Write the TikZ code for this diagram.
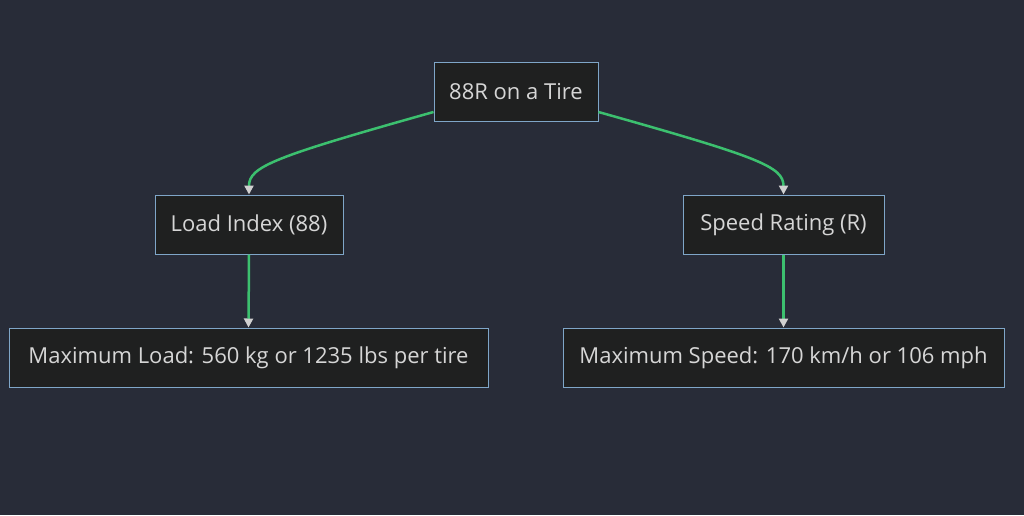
\documentclass[tikz,border=0pt]{standalone}
\usepackage{fontspec}
\setmainfont{Open Sans}
\usetikzlibrary{arrows.meta}
\definecolor{bg}{HTML}{282C38}
\definecolor{nodefill}{HTML}{1F2020}
\definecolor{nodeline}{HTML}{7FA6C8}
\definecolor{txt}{HTML}{D6D6D6}
\definecolor{edge}{HTML}{3CC06F}
\definecolor{tip}{HTML}{D0D0D0}
\begin{document}
\begin{tikzpicture}[x=1pt,y=-1pt,
  box/.style={draw=nodeline,fill=nodefill,text=txt,line width=1pt,inner sep=0pt,
    minimum height=59pt,font=\fontsize{22}{26}\selectfont},
  link/.style={draw=edge,line width=2.5pt,-{Triangle[fill=tip,color=tip,length=9pt,width=9pt]}}]
\fill[bg] (0,0) rectangle (1024,515);
\useasboundingbox (0,0) rectangle (1024,515);
\node[box,minimum width=164pt] (top) at (516,92) {88R on a Tire};
\node[box,minimum width=188pt] (load) at (249,224.5) {Load Index (88)};
\node[box,minimum width=201pt] (speed) at (783.5,224.5) {Speed Rating (R)};
\node[box,minimum width=479pt] (maxl) at (248.5,357.5) {Maximum Load: 560 kg or 1235 lbs per tire};
\node[box,minimum width=441pt] (maxs) at (783.5,357.5) {Maximum Speed: 170 km/h or 106 mph};
\draw[link] ([yshift=-20pt]top.west) .. controls +(-160,45) and +(0,-28) .. (load.north);
\draw[link] ([yshift=-20pt]top.east) .. controls +(160,45) and +(0,-28) .. (speed.north);
\draw[link] (load.south) -- (maxl.north);
\draw[link] (speed.south) -- (maxs.north);
\end{tikzpicture}
\end{document}
